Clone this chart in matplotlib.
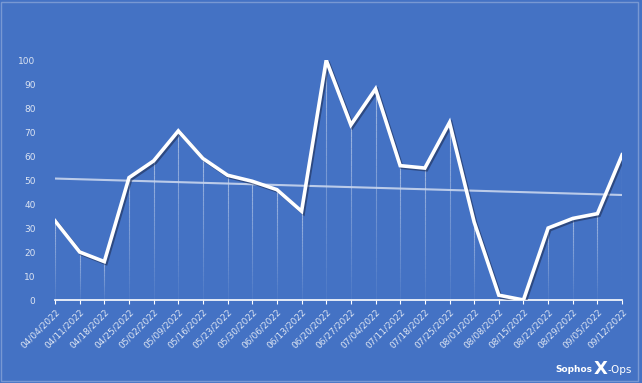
import numpy as np
import matplotlib
matplotlib.use("Agg")
import matplotlib.pyplot as plt
import matplotlib.patheffects as pe
from matplotlib.patches import Rectangle

dates = ["04/04/2022", "04/11/2022", "04/18/2022", "04/25/2022", "05/02/2022",
         "05/09/2022", "05/16/2022", "05/23/2022", "05/30/2022", "06/06/2022",
         "06/13/2022", "06/20/2022", "06/27/2022", "07/04/2022", "07/11/2022",
         "07/18/2022", "07/25/2022", "08/01/2022", "08/08/2022", "08/15/2022",
         "08/22/2022", "08/29/2022", "09/05/2022", "09/12/2022"]
values = [33, 20, 16, 51, 58, 70.5, 59, 52, 49.5, 46, 37, 100, 73, 88, 56, 55,
          74, 32.5, 2, 0, 30, 34, 36, 60.5]
yticks = [0, 10, 20, 30, 40, 50, 60, 70, 80, 90, 100]

bg = "#4472C4"
txt = "#DCE4F2"

fig = plt.figure(figsize=(6.42, 3.83), dpi=100, facecolor=bg)
ax = fig.add_axes([0.0857, 0.2167, 0.969 - 0.0857, 0.843 - 0.2167])
ax.set_facecolor(bg)

x = np.arange(len(values))

# drop lines
for xi, yi in zip(x, values):
    n = 30
    segs_y = np.linspace(0, yi, n + 1)
    for k in range(n):
        a = 0.05 + 0.45 * (k / n)
        ax.plot([xi, xi], [segs_y[k], segs_y[k + 1]], color="white", lw=0.8,
                alpha=a, solid_capstyle="butt", zorder=1)

# trend line
coef = np.polyfit(x, values, 1)
ax.plot(x, np.polyval(coef, x), color="#C9D6EE", lw=1.5, alpha=0.9, zorder=2)

# main line
ax.plot(x, values, color="white", lw=2.6, zorder=3, solid_joinstyle="miter",
        path_effects=[pe.SimpleLineShadow(offset=(1.2, -1.2), shadow_color="#1f2f55", alpha=0.6),
                      pe.Normal()])

ax.set_xlim(0, len(values) - 1)
ax.set_ylim(0, 100)
ax.set_yticks(yticks)
ax.set_xticks(x)
ax.set_xticklabels(dates, rotation=45, ha="right", rotation_mode="anchor")
for s in ["top", "right", "left"]:
    ax.spines[s].set_visible(False)
ax.spines["bottom"].set_color("white")
ax.spines["bottom"].set_linewidth(1.2)
ax.tick_params(axis="x", colors="white", length=3, width=0.8, labelcolor=txt,
               labelsize=6.5, pad=2, direction="out")
ax.tick_params(axis="y", length=0, labelcolor=txt, labelsize=6.5, pad=14)

fig.text(0.922, 0.034, "Sophos", color="white", fontsize=6.5, ha="right",
         va="center", fontweight="bold")
fig.text(0.936, 0.036, "X", color="white", fontsize=13, ha="center",
         va="center", fontweight="bold")
fig.text(0.946, 0.034, "-Ops", color="white", fontsize=7.5, ha="left",
         va="center")

# subtle light frame around the picture
fig.patches.append(Rectangle((0.002, 0.004), 0.992, 0.99, transform=fig.transFigure,
                             fill=False, edgecolor="#C8D3EA", lw=1.0, alpha=0.4))

fig.savefig("out.png", dpi=100, facecolor=bg)
